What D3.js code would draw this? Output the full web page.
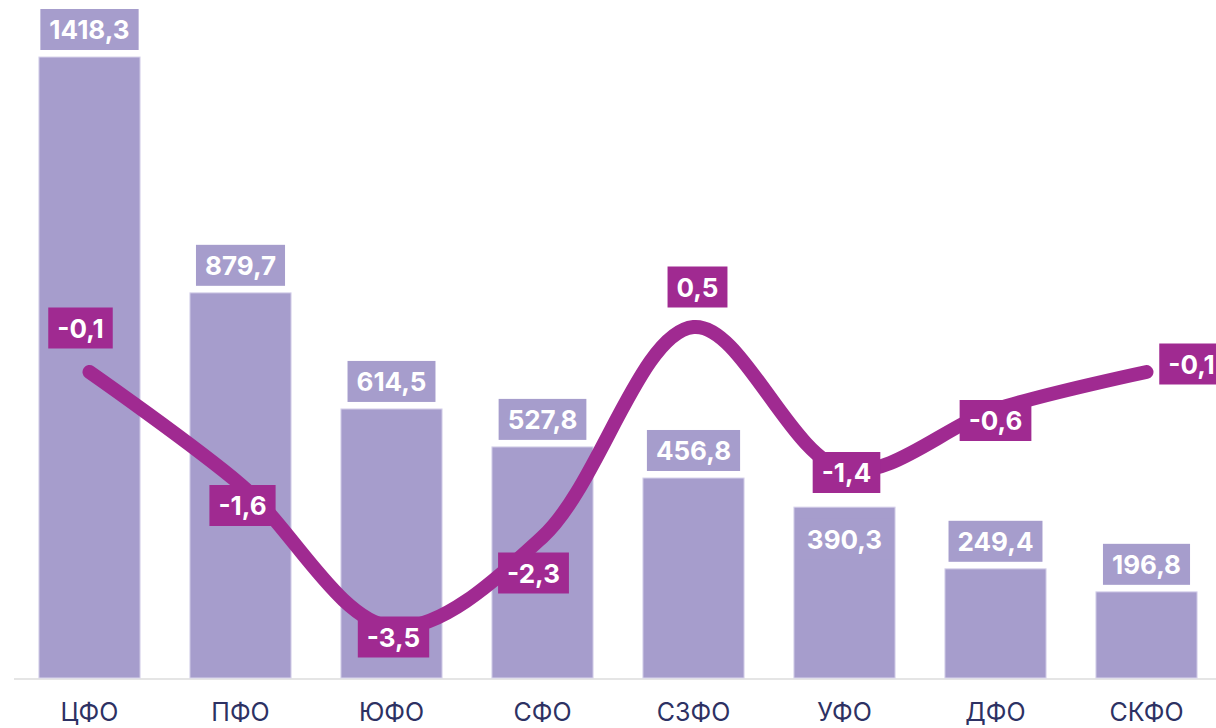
<!DOCTYPE html>
<html>
<head>
<meta charset="utf-8">
<script src="https://cdn.jsdelivr.net/npm/d3@7"></script>
<style>
  body { margin: 0; background: #fff; }
  svg { display: block; font-family: Inter, 'Noto Sans', sans-serif; }
</style>
</head>
<body>
<div id="chart"></div>
<script>
const districts = ['ЦФО', 'ПФО', 'ЮФО', 'СФО', 'СЗФО', 'УФО', 'ДФО', 'СКФО'];
const volumes = [1418.3, 879.7, 614.5, 527.8, 456.8, 390.3, 249.4, 196.8];
const changes = [-0.1, -1.6, -3.5, -2.3, 0.5, -1.4, -0.6, -0.1];

const width = 1216;
const height = 728;
const barColor = '#a69dcc';
const lineColor = '#a02a91';
const fmt = (v) => String(v).replace('.', ',');

// where each line label sits relative to its point (hand placed in the original)
const lineLabelShift = [[-9, -44], [2, 21], [2, 10], [-9, 36], [4, -40], [2, 3], [0, 11], [45, -8]];

const svg = d3.select('#chart')
  .append('svg')
  .attr('width', width)
  .attr('height', height);

const x = d3.scaleBand()
  .domain(districts)
  .range([14, 1222])
  .paddingInner(0.33)
  .paddingOuter(0.165);

const y = d3.scaleLinear().domain([0, 1418.3]).range([678, 57]);
const y2 = d3.scaleLinear().domain([-0.1, 0.5]).range([372, 327]);

// baseline
svg.append('line')
  .attr('x1', 14).attr('x2', width)
  .attr('y1', 679).attr('y2', 679)
  .attr('stroke', '#dcdcdc')
  .attr('stroke-width', 1.5);

// bars
svg.append('g')
  .selectAll('rect')
  .data(volumes)
  .join('rect')
  .attr('x', (d, i) => x(districts[i]))
  .attr('y', (d) => y(d))
  .attr('width', x.bandwidth())
  .attr('height', (d) => y(0) - y(d))
  .attr('fill', barColor)
  .attr('stroke', '#d9d5ec')
  .attr('stroke-width', 1);

// category labels
svg.append('g')
  .selectAll('text')
  .data(districts)
  .join('text')
  .attr('x', (d) => x(d) + x.bandwidth() / 2)
  .attr('y', 721)
  .attr('text-anchor', 'middle')
  .attr('font-size', 25)
  .attr('fill', '#2d3163')
  .text((d) => d);

// boxed label helper
function boxLabel(g, cx, cy, text, fill) {
  const t = g.append('text')
    .attr('x', cx)
    .attr('y', cy + 9.5)
    .attr('text-anchor', 'middle')
    .attr('font-size', 26)
    .attr('font-weight', 700)
    .attr('fill', '#fff')
    .text(text);
  const w = t.node().getComputedTextLength() + 18;
  g.insert('rect', 'text')
    .attr('x', cx - w / 2)
    .attr('y', cy - 20.5)
    .attr('width', w)
    .attr('height', 41)
    .attr('fill', fill);
}

// bar value labels
volumes.forEach((v, i) => {
  const g = svg.append('g');
  const cx = x(districts[i]) + x.bandwidth() / 2;
  // УФО label sits inside its bar in the original
  const cy = i === 5 ? y(v) + 32 : y(v) - 27.5;
  boxLabel(g, cx, cy, fmt(v), barColor);
});

// line
const line = d3.line()
  .x((d, i) => x(districts[i]) + x.bandwidth() / 2)
  .y((d) => y2(d))
  .curve(d3.curveCatmullRom.alpha(0.5));

svg.append('path')
  .datum(changes)
  .attr('d', line)
  .attr('fill', 'none')
  .attr('stroke', lineColor)
  .attr('stroke-width', 14)
  .attr('stroke-linecap', 'round')
  .attr('stroke-linejoin', 'round');

// line labels
changes.forEach((v, i) => {
  const g = svg.append('g');
  const px = x(districts[i]) + x.bandwidth() / 2;
  const py = y2(v);
  boxLabel(g, px + lineLabelShift[i][0], py + lineLabelShift[i][1], fmt(v), lineColor);
});
</script>
</body>
</html>
